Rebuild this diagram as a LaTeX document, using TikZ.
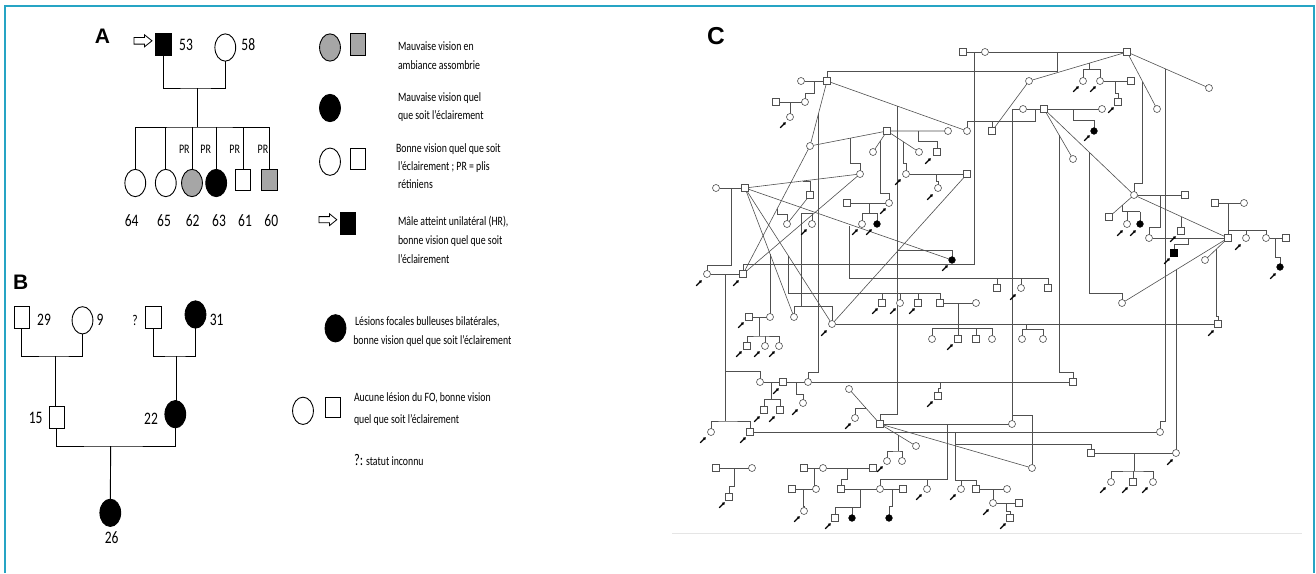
\documentclass[tikz,border=0pt]{standalone}
\usepackage{fontspec}
\setmainfont{Carlito}
\newfontfamily\labelfont{Liberation Sans}
\usetikzlibrary{shapes.geometric,arrows.meta,backgrounds}

\definecolor{frameblue}{RGB}{38,164,196}
\definecolor{shade}{RGB}{166,166,166}
\definecolor{pedline}{RGB}{80,80,80}

\begin{document}
\begin{tikzpicture}[x=1pt,y=-1pt,
  every node/.style={inner sep=0pt, outer sep=0pt},
  sqA/.style={rectangle, draw=black, line width=0.9pt, minimum width=15.3pt, minimum height=21.5pt, fill=white},
  ciA/.style={ellipse, draw=black, line width=0.9pt, minimum width=20.8pt, minimum height=27.3pt, fill=white},
  numtxt/.style={font=\fontsize{13.5}{14}\selectfont, yscale=1.3},
  legtxt/.style={font=\fontsize{9.8}{10}\selectfont, yscale=1.3, anchor=west},
  prtxt/.style={font=\fontsize{10}{11}\selectfont, yscale=1.3},
  paneltxt/.style={font=\labelfont\bfseries\fontsize{21}{21}\selectfont},
  link/.style={draw=black, line width=0.9pt},
  hollowarrow/.style={draw=black, line width=0.8pt, fill=white},
  csq/.style={rectangle, draw=pedline, line width=0.6pt, fill=white, minimum width=7pt, minimum height=7pt},
  cci/.style={circle, draw=pedline, line width=0.6pt, fill=white, minimum size=7pt},
  csqf/.style={csq, fill=black, draw=black},
  ccif/.style={cci, fill=black, draw=black, minimum size=6.6pt},
  cline/.style={draw=pedline, line width=0.6pt},
  probarrow/.style={-{Triangle[length=2.6pt,width=3.2pt]}, line width=1.1pt, black},
]

\begin{pgfonlayer}{background}
  \fill[white] (0,0) rectangle (1316,573);
\end{pgfonlayer}
\useasboundingbox (0,0) rectangle (1316,573);

% frame
\draw[frameblue, line width=2pt] (5,573) -- (5,6) -- (1313.5,6) -- (1313.5,573);
\draw[black!10, line width=0.8pt] (672,533) -- (1302,533);

% ---------------- Panel A ----------------
\node[paneltxt] (lblA) at (102.5,35.8) {A};
\draw[hollowarrow] (134,37.5) -- (144.5,37.5) -- (144.5,34.8) -- (152,40.8) -- (144.5,46.8) -- (144.5,44.1) -- (134,44.1) -- cycle;
\node[sqA, fill=black] (p53) at (163.4,44.5) {};
\node[ciA] (p58) at (225.3,47.5) {};
\node[numtxt] (t53) at (186,45) {53};
\node[numtxt] (t58) at (248.3,45) {58};

\node[ciA] (p64) at (135.3,183) {};
\node[ciA] (p65) at (165.8,183) {};
\node[ciA, fill=shade] (p62) at (192,183) {};
\node[ciA, fill=black] (p63) at (216.2,183) {};
\node[sqA] (p61) at (243.2,179.8) {};
\node[sqA, fill=shade] (p60) at (269.5,179.8) {};

\coordinate (mA) at (197,88);
\coordinate (sA) at (197,127);
\draw[link] (p53.south) |- (mA) -| (p58.south);
\draw[link] (mA) -- (sA);
\draw[link] (p64.north) |- (sA) -| (p60.north);
\foreach \k in {p65,p62,p63,p61} \draw[link] (\k.north) -- (\k.north |- sA);

\node[prtxt] (pr1) at (184.3,149) {PR};
\node[prtxt] (pr2) at (205.7,149) {PR};
\node[prtxt] (pr3) at (234.7,149) {PR};
\node[prtxt] (pr4) at (263,149) {PR};

\node[numtxt] (t64) at (131.7,220.7) {64};
\node[numtxt] (t65) at (164,220.7) {65};
\node[numtxt] (t62) at (192.7,220.7) {62};
\node[numtxt] (t63) at (219,220.7) {63};
\node[numtxt] (t61) at (245,220.7) {61};
\node[numtxt] (t60) at (271.3,220.7) {60};

% legend A
\node[ciA, fill=shade] (la1c) at (330,47.5) {};
\node[sqA, fill=shade] (la1s) at (357.7,44.5) {};
\node[legtxt] (la1a) at (398,46) {Mauvaise vision en};
\node[legtxt] (la1b) at (398,65.3) {ambiance assombrie};
\node[ciA, fill=black] (la2c) at (330,108) {};
\node[legtxt] (la2a) at (398,98.3) {Mauvaise vision quel};
\node[legtxt] (la2b) at (398,116.3) {que soit l’éclairement};
\node[ciA] (la3c) at (330,161.7) {};
\node[sqA] (la3s) at (357.7,158.8) {};
\node[legtxt] (la3a) at (396,149) {Bonne vision quel que soit};
\node[legtxt] (la3b) at (398,166.7) {l’éclairement ; PR = plis};
\node[legtxt] (la3c2) at (398,184.3) {rétiniens};
\draw[hollowarrow] (319,216.6) -- (329.5,216.6) -- (329.5,213.8) -- (336.8,219.7) -- (329.5,225.6) -- (329.5,222.8) -- (319,222.8) -- cycle;
\node[sqA, fill=black] (la4s) at (347.7,223.3) {};
\node[legtxt] (la4a) at (398,221.7) {Mâle atteint unilatéral (HR),};
\node[legtxt] (la4b) at (398,241.3) {bonne vision quel que soit};
\node[legtxt] (la4c) at (398,258.7) {l’éclairement};

% ---------------- Panel B ----------------
\node[paneltxt] (lblB) at (20.8,282) {B};
\node[sqA] (q29) at (21.7,317.5) {};
\node[ciA] (q9) at (82.5,320.3) {};
\node[sqA] (qx) at (153.3,317.5) {};
\node[ciA, fill=black] (q31) at (195.5,314.5) {};
\node[numtxt] (t29) at (44,320) {29};
\node[numtxt] (t9) at (100,320) {9};
\node[font=\fontsize{11.5}{12}\selectfont, yscale=1.3] (tq) at (135,320) {?};
\node[numtxt] (t31) at (216.7,320) {31};

\node[sqA] (q15) at (56.8,417.2) {};
\node[ciA, fill=black] (q22) at (175.3,414.2) {};
\node[numtxt] (t15) at (35.7,418.3) {15};
\node[numtxt] (t22) at (151,418.3) {22};
\node[ciA, fill=black] (q26) at (110.3,512.8) {};
\node[numtxt] (t26) at (111.7,537.3) {26};

\coordinate (mB1) at (55.7,356);
\coordinate (mB2) at (176,356);
\coordinate (mB3) at (110.7,446);
\draw[link] (q29.south) |- (mB1) -| (q9.south);
\draw[link] (mB1) -- (q15.north -| mB1);
\draw[link] (qx.south) |- (mB2) -| (q31.south);
\draw[link] (mB2) -- (q22.north -| mB2);
\draw[link] (q15.south) |- (mB3) -| (q22.south);
\draw[link] (mB3) -- (q26.north);

% legend B
\node[ciA, fill=black] (lb1c) at (335.5,328.3) {};
\node[legtxt] (lb1a) at (355,321.7) {Lésions focales bulleuses bilatérales,};
\node[legtxt] (lb1b) at (353.3,341) {bonne vision quel que soit l’éclairement};
\node[ciA] (lb2c) at (303,410.8) {};
\node[sqA, minimum height=20.4pt, minimum width=15pt] (lb2s) at (332.5,407.5) {};
\node[legtxt] (lb2a) at (354,397.7) {Aucune lésion du FO, bonne vision};
\node[legtxt] (lb2b) at (354,420) {quel que soit l’éclairement};
\node[legtxt] (lb3) at (354,460) {{\fontsize{12.5}{13}\selectfont ?:} statut inconnu};

% ---------------- Panel C ----------------
\node[paneltxt, font=\labelfont\bfseries\fontsize{24.5}{25}\selectfont] (lblC) at (716,35.8) {C};

% individuals
\foreach \n/\s/\x/\y in {
  t1/csq/963/52, t2/cci/985/52, t3/csq/1127/52,
  a1/csq/827/81, a2/cci/801/81, a3/cci/805/102, a4/csq/776/102, a5/cci/790/117,
  b1/cci/967/131, b2/cci/810/146, b3/csq/887/131, b4/cci/948/131, b5/cci/860/174,
  b6/csq/992/131, b7/cci/1023/109, b8/csq/1044/109, b9/cci/1029/81,
  b10/cci/873/152, b11/cci/919/152, b12/csq/937/152, b13/cci/889/203,
  b14/cci/906/174, b15/csq/967/174, b16/cci/938/188,
  c1/cci/716/188, c2/csq/745/188, c3/cci/707/274, c4/csq/743/274,
  c5/csq/810/195, c6/cci/787/224, c7/cci/812/224, c8/csq/847/203,
  c9/cci/862/224, c10/ccif/877/224, c11/ccif/952/260,
  d1/cci/1083/81, d2/cci/1100/81, d3/csq/1131/81, d4/csq/1118/102,
  d5/cci/1102/109, d6/ccif/1094/131, d7/cci/1073/159, d8/cci/1157/109,
  d9/cci/1209/88, d10/cci/1134/195, d11/csq/1185/195, d12/csq/1109/217,
  d13/cci/1127/224, d14/ccif/1140/224, d15/cci/1149/238, d16/csq/1181/231,
  d17/csqf/1174/253, d18/csq/1228/238, d19/csq/1215/203, d20/cci/1244/203,
  d21/cci/1246/238, d22/cci/1266/238, d23/csq/1286/238, d24/ccif/1280/267,
  d25/cci/1205/260, d26/csq/1218/324, d27/cci/1122/303,
  e1/csq/997/288, e2/cci/1021/288, e3/csq/1048/288, e5/cci/1022/339, e6/cci/1043/339,
  f1/csq/749/317, f2/cci/770/317, f3/cci/794/317, f4/cci/832/324,
  f5/csq/747/346, f6/cci/765/346, f7/cci/779/346,
  g1/csq/882/303, g2/cci/900/303, g3/csq/918/303, g4/csq/940/303, g5/cci/976/303,
  g6/cci/932/339, g7/csq/958/339, g8/csq/976/339, g9/cci/992/339,
  h1/cci/760/382, h2/csq/783/382, h3/cci/808/382, h4/csq/1073/382,
  h5/csq/764/410, h6/csq/780/410, h7/cci/803/403, h8/csq/938/396,
  h9/cci/849/389, h10/cci/855/418, h11/csq/880/424, h12/cci/916/446,
  h13/cci/887/461, h14/cci/902/461, h15/cci/1012/424, h16/cci/1032/468,
  h17/cci/711/432, h18/csq/750/432, h19/cci/1160/432,
  i1/csq/716/468, i2/cci/752/468, i3/csq/729/497, i4/csq/804/468, i5/cci/823/468,
  i6/csq/873/468, i7/csq/792/489, i8/cci/816/489, i9/cci/804/511,
  i10/csq/841/489, i11/cci/880/489, i12/csq/903/489, i13/csq/835/518,
  i14/ccif/852/518, i15/ccif/889/518, i16/cci/927/489, i17/cci/961/489,
  i18/csq/976/489, i19/cci/1007/489, i20/cci/993/503, i21/csq/1019/503, i22/csq/1010/518,
  j1/csq/1091/453, j2/cci/1176/453, j3/cci/1111/482, j4/csq/1133/482, j5/cci/1153/482}
  \node[\s] (\n) at (\x,\y) {};

% relationship and descent lines
\begin{pgfonlayer}{background}
\begin{scope}[cline]
  \draw (t1) -- (t2) -- (t3);
  \draw (974,52) -- (974,264) -| (c4);
  \draw (1057,52) -- (1057,71) -| (a1);
  \draw (a2) -- (a1);
  \draw (814,81) -- (814,93) -| (a3);
  \draw (a4) -- (a3);
  \draw (790,102) -- (a5);
  \draw (a1) -- (b1);
  \draw (a1) -- (b2);
  \draw (818.5,113.5) -- (818.5,372) -| (h3);
  \draw (b2) -- (b3) -- (b4);
  \draw (850,138.2) -- (850,163) -| (b5);
  \draw (b7) -- (b8);
  \draw (1035,109) -- (1035,121.7) -| (b1);
  \draw (992,121.7) -- (b6);
  \draw (b6) -- (b9) -- (t3);
  \draw (b7) -- (1012,109) -- (h15);
  \draw (1012,415) -| (h16);
  \draw (b3) -- (b10);
  \draw (b3) -- (b11);
  \draw (918.3,131) -- (918.3,141) -| (b12);
  \draw (880.7,140.5) -- (880.7,193.3) -| (b13);
  \draw (903,141.5) -- (903,163.3) -| (b14);
  \draw (b14) -- (b15);
  \draw (936,174) -- (936,181) -| (b16);
  \draw (b15) -- (f4);
  \draw (c1) -- (c2);
  \draw (731.7,188) -- (731.7,265) -| (c3);
  \draw (c3) -- (c4);
  \draw (725,274) -- (725,421);
  \draw (h17) |- (725,421) -| (h18);
  \draw (725,371.7) -| (h1);
  \draw (c4) -- (b2);
  \draw (c4) -- (b5);
  \draw (c2) -- (b5);
  \draw (c2) -- (c11);
  \draw (c2) -- (f3);
  \draw (c2) -- (f4);
  \draw (770,253.8) -- (f2);
  \draw (788.3,255.7) |- (940,293.3);
  \foreach \k in {g1,g2,g3,g4} \draw (\k |- 0,293.3) -- (\k);
  \draw (g4) -- (g5);
  \draw (958,303) -- (958,328.3);
  \draw (g6) |- (958,328.3) -| (g9);
  \draw (g7 |- 0,328.3) -- (g7);
  \draw (g8 |- 0,328.3) -- (g8);
  \draw (803.3,180.9) -| (c5);
  \draw (777,209) -- (777,214.3) -| (c6);
  \draw (c6) -- (c5);
  \draw (801.7,213.3) -| (c7);
  \draw (801.7,213.3) -- (801.7,306.7);
  \draw (f3) |- (818.5,306.7) -| (f4);
  \draw (f4) -- (d26);
  \draw (1026,324) -- (1026,329.3);
  \draw (e5) |- (1026,329.3) -| (e6);
  \draw (c8) -- (b13);
  \draw (869.3,203) -- (869.3,213.3);
  \draw (c9) |- (869.3,213.3) -| (c10);
  \draw (897.3,106.1) -- (897.3,414.3) -| (h11);
  \draw (897.3,250.7) -| (c11);
  \draw (849,226) -- (849,278.3) -| (e3);
  \draw (e1 |- 0,278.3) -- (e1);
  \draw (e2 |- 0,278.3) -- (e2);
  \draw (1089.3,63.2) -- (1089.3,69.3);
  \draw (d1) |- (1089.3,69.3) -| (d2);
  \draw (d2) -- (d3);
  \draw (1115.7,81) -- (1115.7,93.3) -| (d4);
  \draw (b8) -- (d5);
  \draw (1073.3,109) -- (1073.3,120) -| (d6);
  \draw (b8) -- (d7);
  \draw (b8) -- (d10);
  \draw (1059,134.9) -- (1059,372.7) -| (h4);
  \draw (1089.3,152.3) -- (1089.3,293.3) -| (d27);
  \draw (t3) -- (d8);
  \draw (t3) -- (d9);
  \draw (1142.7,81.8) -- (1142.7,183.3) -| (d10);
  \draw (1165,68.7) -- (1165,421.7) -| (h19);
  \draw (d10) -- (d11);
  \draw (1160,195) -- (1160,227.3) -| (d15);
  \draw (d10) -- (d12);
  \draw (1122.7,205) |- (1140,211.7);
  \draw (d13 |- 0,211.7) -- (d13);
  \draw (d14 |- 0,211.7) -- (d14);
  \draw (d10) -- (d18);
  \draw (d15) -- (d18);
  \draw (1181,216.5) -- (d16);
  \draw (1188.3,238) -- (1188.3,244) -| (d17);
  \draw (d19) -- (d20);
  \draw (1228,203) -- (d18);
  \draw (1228,230) -| (d22);
  \draw (1246,230) -- (d21);
  \draw (d22) -- (d23);
  \draw (1275.7,238) -- (1275.7,257.3) -| (d24);
  \draw (d18) -- (d25);
  \draw (1216.7,248.8) -- (1216.7,316) -| (d26);
  \draw (d18) -- (d27);
  \draw (1176,269.9) -- (j2);
  \draw (f1) -- (f2);
  \draw (759.3,317) -- (759.3,336);
  \draw (f5) |- (759.3,336) -| (f7);
  \draw (f6 |- 0,336) -- (f6);
  \draw (h1) -- (h2) -- (h3) -- (h4);
  \draw (771,382) -- (771,399.3);
  \draw (h5) |- (771,399.3) -| (h6);
  \draw (796,382) -- (796,394) -| (h7);
  \draw (940.7,382) -- (940.7,388.3) -| (h8);
  \draw (h9) -- (h11);
  \draw (865,407) -- (865,408.3) -| (h10);
  \draw (h11) -- (h12);
  \draw (898.3,435.2) -- (898.3,451);
  \draw (h13) |- (898.3,451) -| (h14);
  \draw (h11) -- (h15);
  \draw (h11) -- (h16);
  \draw (h18) -- (h19);
  \draw (947.3,424) -- (947.3,479.3) -| (i11);
  \draw (i16 |- 0,479.3) -- (i16);
  \draw (955,432) -- (955,480) -| (i18);
  \draw (i17 |- 0,480) -- (i17);
  \draw (955,444) -| (j1);
  \draw (j1) -- (j2);
  \draw (1134,453) -- (1134,471);
  \draw (j3) |- (1134,471) -| (j5);
  \draw (j4 |- 0,471) -- (j4);
  \draw (i1) -- (i2);
  \draw (734.3,468) -- (734.3,486) -| (i3);
  \draw (i4) -- (i5) -- (i6);
  \draw (814,468) -- (814,485) -| (i8);
  \draw (i7) -- (i8);
  \draw (803.3,489) -- (803.3,506) -| (i9);
  \draw (847.7,468) -- (847.7,479.3) -| (i10);
  \draw (i10) -- (i11) -- (i12);
  \draw (860.7,489) |- (835,507.7) -- (i13);
  \draw (i14 |- 0,507.7) -- (i14);
  \draw (892.7,489) -- (892.7,506) -| (i15);
  \draw (i18) -- (i19);
  \draw (993,489) -- (i20);
  \draw (i20) -- (i21);
  \draw (1006.7,503) -- (1006.7,511.7) -| (i22);
\end{scope}
\end{pgfonlayer}

% proband arrows
\foreach \x/\y in {783/125, 928/161, 883/211, 898/182, 930/197, 699/283, 736/283,
  804/232, 855/232, 869/232, 945/268, 1076/89, 1093/89, 1111/110, 1087/138,
  1120/233, 1133/233, 1173/239, 1167/261, 1238/247, 1273/276, 1211/333, 1013/297,
  741/325, 824/333, 739/354, 757/354, 772/354, 875/311, 893/311, 912/311, 950/347,
  776/391, 757/419, 772/419, 795/412, 930/404, 848/426, 703/440, 743/440,
  722/505, 880/469, 797/519, 828/526, 919/497, 953/497, 986/512, 1003/526,
  1170/462, 1103/490, 1125/490, 1145/490}
  \draw[probarrow] ({\x-2.8},{\y+2.8}) -- ({\x+2.8},{\y-2.8});

\end{tikzpicture}
\end{document}
